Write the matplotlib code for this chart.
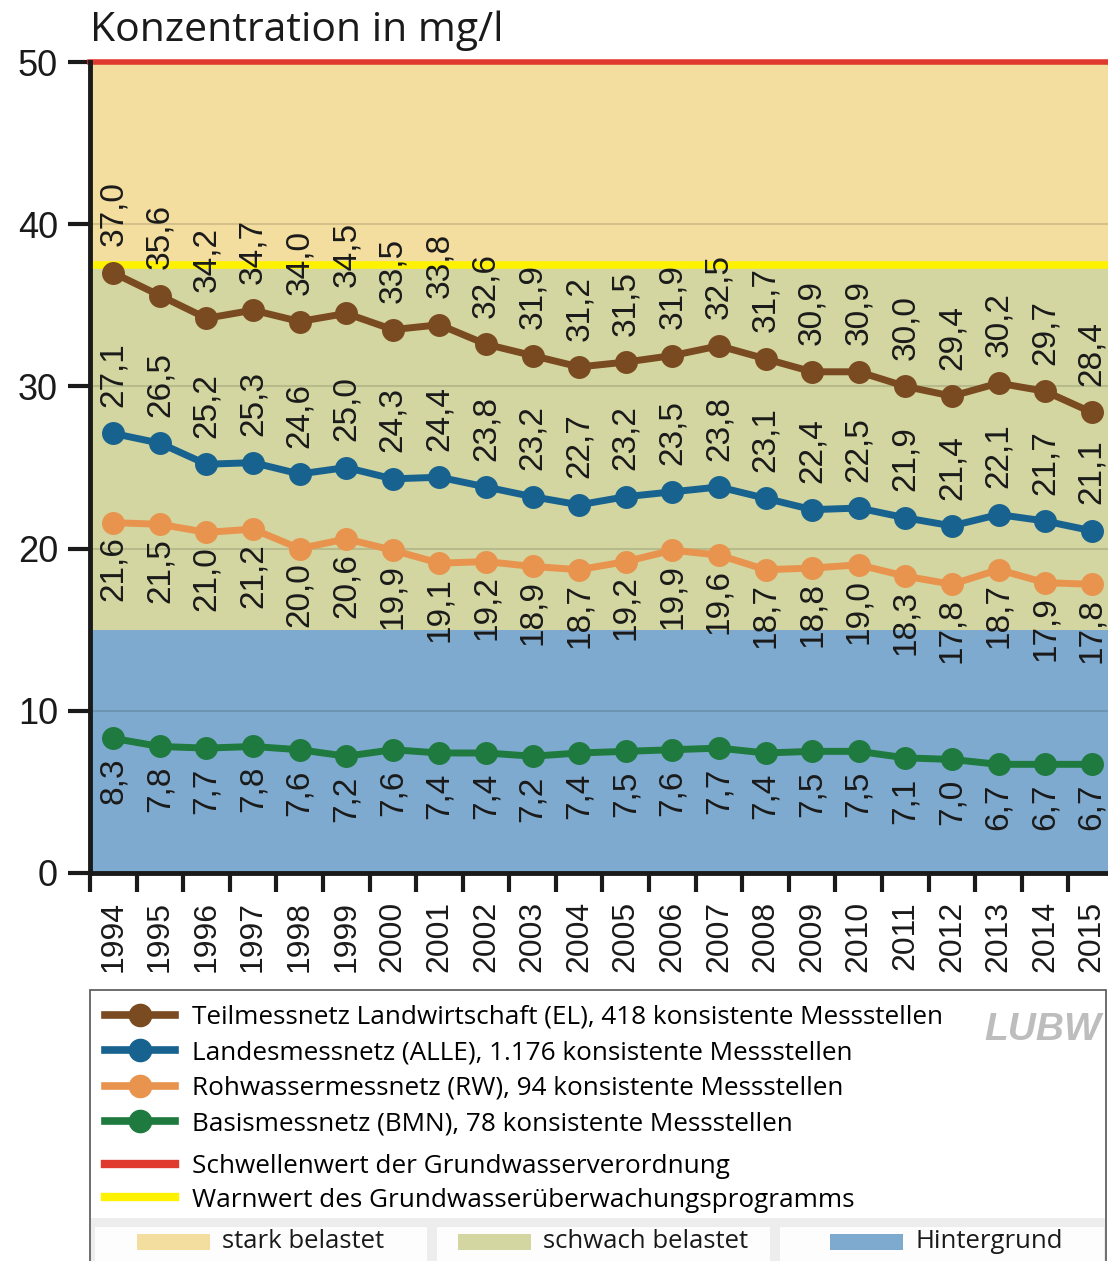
import matplotlib.pyplot as plt
from matplotlib.lines import Line2D
from matplotlib.patches import Rectangle

plt.rcParams['font.family'] = ['Liberation Sans', 'DejaVu Sans']

# Nitratkonzentration im Grundwasser, Mittelwerte der konsistenten Messstellen
years = list(range(1994, 2016))
el = [37.0, 35.6, 34.2, 34.7, 34.0, 34.5, 33.5, 33.8, 32.6, 31.9, 31.2,
      31.5, 31.9, 32.5, 31.7, 30.9, 30.9, 30.0, 29.4, 30.2, 29.7, 28.4]
alle = [27.1, 26.5, 25.2, 25.3, 24.6, 25.0, 24.3, 24.4, 23.8, 23.2, 22.7,
        23.2, 23.5, 23.8, 23.1, 22.4, 22.5, 21.9, 21.4, 22.1, 21.7, 21.1]
rw = [21.6, 21.5, 21.0, 21.2, 20.0, 20.6, 19.9, 19.1, 19.2, 18.9, 18.7,
      19.2, 19.9, 19.6, 18.7, 18.8, 19.0, 18.3, 17.8, 18.7, 17.9, 17.8]
bmn = [8.3, 7.8, 7.7, 7.8, 7.6, 7.2, 7.6, 7.4, 7.4, 7.2, 7.4,
       7.5, 7.6, 7.7, 7.4, 7.5, 7.5, 7.1, 7.0, 6.7, 6.7, 6.7]

schwellenwert = 50
warnwert = 37.5
hintergrund = 15

series_labels = [
    "Teilmessnetz Landwirtschaft (EL), 418 konsistente Messstellen",
    "Landesmessnetz (ALLE), 1.176 konsistente Messstellen",
    "Rohwassermessnetz (RW), 94 konsistente Messstellen",
    "Basismessnetz (BMN), 78 konsistente Messstellen",
]
line_labels = [
    "Schwellenwert der Grundwasserverordnung",
    "Warnwert des Grundwasserüberwachungsprogramms",
]
band_labels = ["stark belastet", "schwach belastet", "Hintergrund"]

c_el = '#7A4A20'
c_alle = '#17628F'
c_rw = '#E8944E'
c_bmn = '#1E7A3E'
c_red = '#E03A2F'
c_yellow = '#FFF200'
c_stark = '#F4DE9F'
c_schwach = '#D3D6A0'
c_hinter = '#7FAACF'
dark = '#1a1a1a'
txt_font = ['Open Sans', 'DejaVu Sans']

W, H = 1108, 1261
fig = plt.figure(figsize=(W / 100, H / 100), dpi=100)
ax = fig.add_axes([90 / W, 1 - 873 / H, (W - 90) / W, 811 / H])

x = list(range(len(years)))
ax.set_xlim(-0.5, 21.35)
ax.set_ylim(0, 50)

# Belastungsbereiche
ax.axhspan(0, hintergrund, color=c_hinter, zorder=0, lw=0)
ax.axhspan(hintergrund, warnwert, color=c_schwach, zorder=0, lw=0)
ax.axhspan(warnwert, schwellenwert, color=c_stark, zorder=0, lw=0)
for gy in [10, 20, 30, 40]:
    ax.axhline(gy, color='black', alpha=0.13, lw=1.5, zorder=1)
ax.axhline(warnwert, color=c_yellow, lw=5.5, zorder=2)
ax.axhline(schwellenwert, color=c_red, lw=4, zorder=2, clip_on=False)

# Messreihen mit Beschriftung (oben / unten)
series = [(el, c_el, 19), (alle, c_alle, 19), (rw, c_rw, -10), (bmn, c_bmn, -14)]
for vals, col, off in series:
    ax.plot(x, vals, color=col, lw=5, marker='o', markersize=15.5, zorder=3)
    for xi, v in zip(x, vals):
        ax.annotate(f"{v:.1f}".replace('.', ','), (xi, v),
                    xytext=(0, off), textcoords='offset points',
                    rotation=90, ha='center',
                    va='bottom' if off > 0 else 'top',
                    fontsize=24, color=dark, zorder=4)

# Achsen
ax.set_xticks(x)
ax.set_xticklabels([str(y) for y in years], rotation=90, fontsize=23)
ax.set_xticks([i - 0.5 for i in x], minor=True)
ax.tick_params(axis='x', which='major', length=0, pad=20, colors=dark)
ax.tick_params(axis='x', which='minor', length=14, width=3, direction='out', color=dark)
ax.set_yticks(range(0, 51, 10))
ax.tick_params(axis='y', length=16, width=3, pad=7, labelsize=26, colors=dark)
for s in ['top', 'right']:
    ax.spines[s].set_visible(False)
for s in ['left', 'bottom']:
    ax.spines[s].set_linewidth(3.5)
    ax.spines[s].set_color(dark)

fig.text(90 / W, 1 - 41 / H, "Konzentration in mg/l", fontsize=29.5,
         family=txt_font, va='baseline', color=dark)

# Legende
fig.patches.append(Rectangle((90 / W, -0.01), (1106 - 90) / W, (1261 - 990) / H + 0.01,
                             transform=fig.transFigure, fc='white', ec='#555555',
                             lw=1.2, zorder=0))
leg_prop = {'family': txt_font, 'size': 18.8}
handles = [Line2D([], [], color=c, lw=5.5, marker='o', markersize=16)
           for c in [c_el, c_alle, c_rw, c_bmn]]
fig.legend(handles, series_labels, loc='upper left',
           bbox_to_anchor=(105 / W, 1 - 1005 / H), frameon=False, prop=leg_prop,
           handlelength=2.68, handletextpad=0.65, labelspacing=0.4,
           borderpad=0, borderaxespad=0)
line_handles = [Line2D([], [], color=c_red, lw=6), Line2D([], [], color=c_yellow, lw=6)]
fig.legend(line_handles, line_labels, loc='upper left',
           bbox_to_anchor=(105 / W, 1 - 1154 / H), frameon=False, prop=leg_prop,
           handlelength=2.68, handletextpad=0.65, labelspacing=0.33,
           borderpad=0, borderaxespad=0)

fig.text(1043 / W, 1 - 1030 / H, "LUBW", fontsize=28, fontweight='bold',
         style='italic', color='#BDBDBD', ha='center', va='center')

# Bereichsleiste unten
fig.patches.append(Rectangle((91 / W, 0), (1105 - 91) / W, (1261 - 1218) / H,
                             transform=fig.transFigure, fc='#EDEDED', lw=0, zorder=1))
cells = [(95, 427), (437, 770), (780, 1104)]
patch_x = [137, 458, 830]
band_cols = [c_stark, c_schwach, c_hinter]
for (x0, x1), px, col, lab in zip(cells, patch_x, band_cols, band_labels):
    fig.patches.append(Rectangle((x0 / W, 0), (x1 - x0) / W, (1261 - 1227) / H,
                                 transform=fig.transFigure, fc='#FDFDFD', lw=0, zorder=2))
    fig.patches.append(Rectangle((px / W, 1 - 1250 / H), 73 / W, 16 / H,
                                 transform=fig.transFigure, fc=col, lw=0, zorder=3))
    fig.text((px + 85) / W, 1 - 1242 / H, lab, fontsize=18.5, family=txt_font,
             va='center', color=dark)

fig.savefig('out.png', dpi=100)
